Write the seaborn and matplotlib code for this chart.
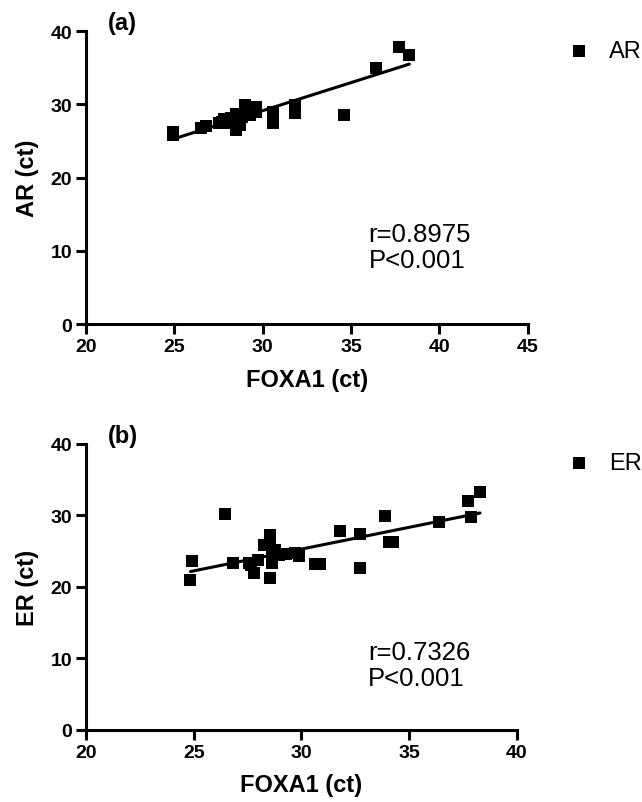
import numpy as np
import pandas as pd
import seaborn as sns
import matplotlib
matplotlib.use('Agg')
import matplotlib.pyplot as plt

# panel (a): FOXA1 vs AR
foxa1_a = [24.9, 24.9, 26.5, 26.8, 27.5, 27.7, 27.8, 28.0, 28.2, 28.5, 28.5, 28.5, 28.7, 28.8,
           29.0, 29.2, 29.3, 29.6, 29.6, 30.6, 30.6, 31.8, 31.8, 34.6, 36.4, 37.7, 38.3]
ar = [26.2, 25.8, 26.8, 27.1, 27.5, 27.6, 28.0, 27.5, 28.1, 27.8, 26.5, 28.7, 27.2, 28.3,
      29.9, 28.8, 28.5, 29.7, 29.0, 29.0, 27.5, 29.9, 28.8, 28.5, 35.0, 37.8, 36.7]

# panel (b): FOXA1 vs ER
foxa1_b = [24.85, 24.9, 26.46, 26.84, 27.57, 27.64, 27.8, 27.98, 28.27, 28.55, 28.55, 28.55,
           28.65, 28.65, 28.78, 28.94, 29.3, 29.7, 29.9, 30.65, 30.87, 31.8, 32.7, 32.7, 33.9,
           34.07, 34.26, 36.39, 37.74, 37.87, 38.29]
er = [20.9, 23.6, 30.2, 23.3, 23.3, 23.0, 22.0, 23.8, 25.8, 27.2, 21.2, 25.8, 24.4, 23.3,
      25.1, 24.4, 24.6, 24.7, 24.3, 23.2, 23.2, 27.8, 27.4, 22.6, 29.9, 26.2, 26.2, 29.0,
      32.0, 29.8, 33.3]

df_a = pd.DataFrame({'FOXA1': foxa1_a, 'AR': ar})
df_b = pd.DataFrame({'FOXA1': foxa1_b, 'ER': er})

sns.set_style('ticks', {'axes.edgecolor': 'black', 'text.color': 'black',
                        'axes.labelcolor': 'black', 'xtick.color': 'black',
                        'ytick.color': 'black'})
plt.rcParams['font.family'] = ['Liberation Sans', 'DejaVu Sans']

fig = plt.figure(figsize=(6.42, 8.03), dpi=100)
ax1 = fig.add_axes([0.134, 0.595, 0.688, 0.365])
ax2 = fig.add_axes([0.134, 0.090, 0.671, 0.356])

def panel(ax, df, ycol, xmax, letter, rtxt, txy, legy):
    sns.regplot(x='FOXA1', y=ycol, data=df, ax=ax, ci=None, marker='s', color='black',
                scatter_kws={'s': 75, 'alpha': 1, 'linewidths': 0}, line_kws={'lw': 2.2},
                label=ycol)
    ax.set_xlim(20, xmax)
    ax.set_ylim(0, 40)
    ax.set_xticks(range(20, xmax + 1, 5))
    ax.set_yticks(range(0, 41, 10))
    sns.despine(ax=ax)
    for s in ['left', 'bottom']:
        ax.spines[s].set_linewidth(2.2)
    ax.tick_params(width=2.2, length=7, labelsize=14, pad=3)
    for t in ax.get_xticklabels() + ax.get_yticklabels():
        t.set_fontweight('bold')
    ax.set_xlabel('FOXA1 (ct)', fontsize=17, fontweight='bold', labelpad=9)
    ax.set_ylabel(ycol + ' (ct)', fontsize=17, fontweight='bold', labelpad=8)
    ax.text(txy[0], txy[1], rtxt + '\nP<0.001', fontsize=18.5, va='center', ha='left',
            linespacing=1.1)
    ax.text(0.05, 1.03, letter, transform=ax.transAxes, fontsize=17, fontweight='bold',
            va='center', ha='left')
    h, l = ax.get_legend_handles_labels()
    fig.legend(h[:1], l[:1], loc='center left', bbox_to_anchor=(0.886, legy), frameon=False,
               fontsize=17, handlelength=0.9, handletextpad=0.8, borderpad=0,
               borderaxespad=0, markerscale=0.95)

panel(ax1, df_a, 'AR', 45, '(a)', 'r=0.8975', (36.0, 10.5), 0.935)
panel(ax2, df_b, 'ER', 40, '(b)', 'r=0.7326', (33.1, 9.0), 0.422)

fig.savefig('out.png', dpi=100)
